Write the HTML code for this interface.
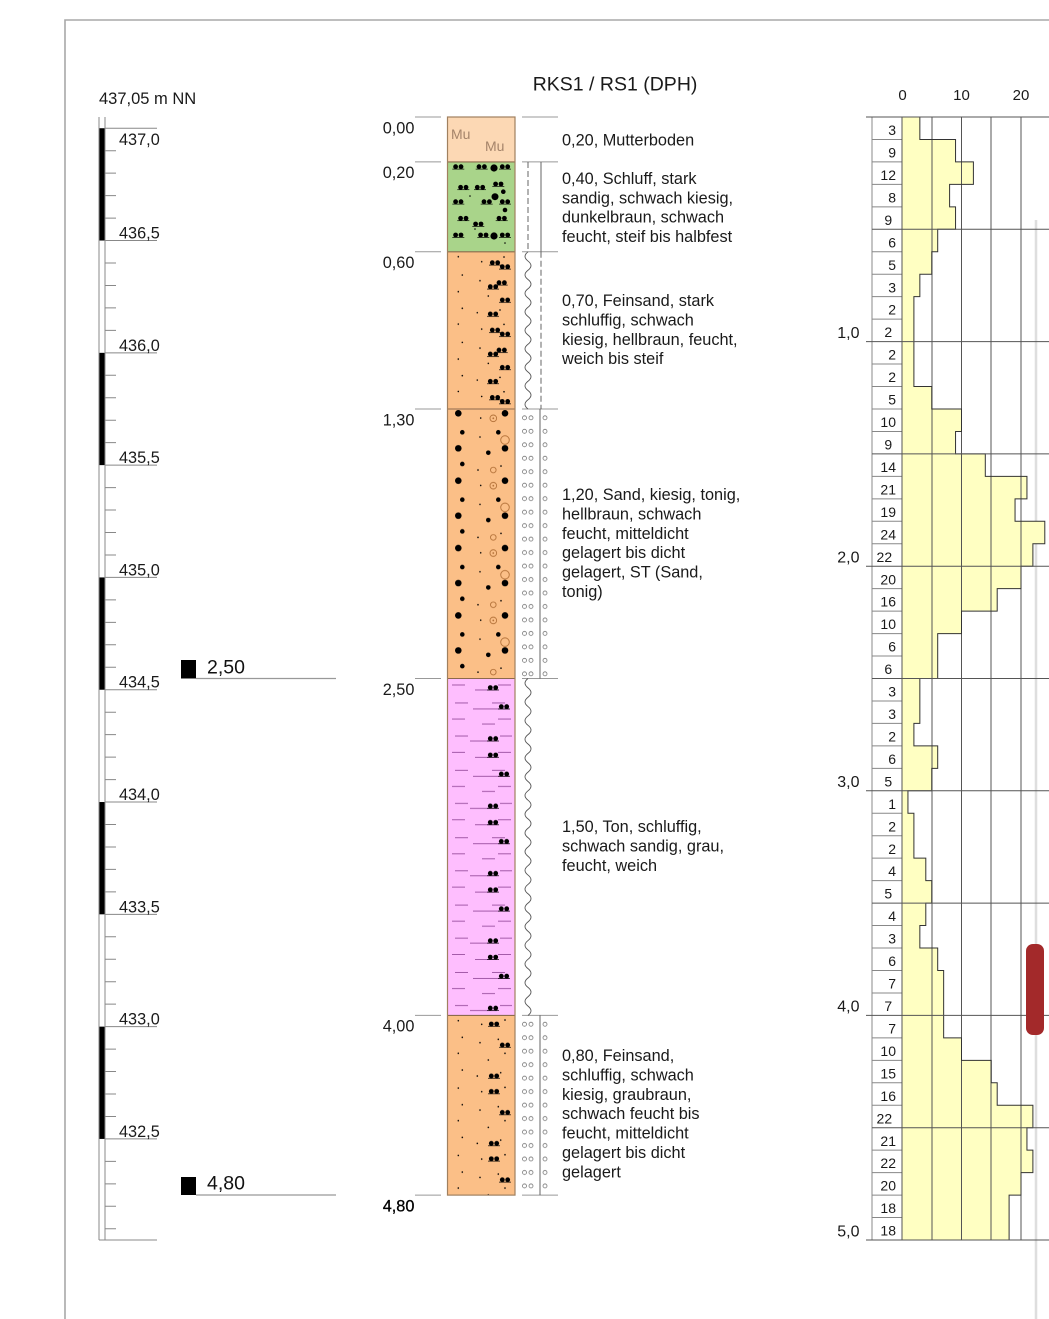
<!DOCTYPE html>
<html><head><meta charset="utf-8"><style>
html,body{margin:0;padding:0;background:#fff;}
svg{display:block;font-family:"Liberation Sans",Arial,sans-serif;}
.s path,.s line,.s rect{vector-effect:non-scaling-stroke;}
</style></head><body>
<svg width="1049" height="1319" viewBox="0 0 1049 1319" xmlns="http://www.w3.org/2000/svg">
<defs>
<g id="pr"><circle cx="-2.7" cy="0" r="2.4"/><circle cx="2.7" cy="0" r="2.4"/><path d="M-6 2.4h12" stroke="#000" stroke-width="0.7"/></g>
<pattern id="fs1" patternUnits="userSpaceOnUse" x="447" y="251.8" width="68" height="67.38">
<g fill="#000">
<circle cx="11.3" cy="4.9" r="0.8"/><circle cx="34.7" cy="9.9" r="0.8"/><circle cx="57" cy="5.2" r="0.8"/><circle cx="15.3" cy="23.2" r="0.8"/><circle cx="33" cy="28.9" r="0.8"/><circle cx="11.3" cy="39.9" r="0.8"/><circle cx="41.3" cy="44.2" r="0.8"/><circle cx="15.3" cy="56.5" r="0.8"/><circle cx="30.3" cy="60.9" r="0.8"/><circle cx="53" cy="58.2" r="0.8"/>
<use href="#pr" x="48" y="10.9"/><use href="#pr" x="58" y="14.9"/><use href="#pr" x="54.7" y="30.9"/><use href="#pr" x="46" y="34.9"/><use href="#pr" x="58" y="48.2"/><use href="#pr" x="46" y="62.2"/>
</g></pattern>
<pattern id="fs2" patternUnits="userSpaceOnUse" x="447" y="1015.4" width="68" height="67.38">
<g fill="#000">
<circle cx="11.3" cy="5.3" r="0.8"/><circle cx="34.7" cy="8.9" r="0.8"/><circle cx="58" cy="4.6" r="0.8"/><circle cx="15.3" cy="21.9" r="0.8"/><circle cx="33" cy="27.3" r="0.8"/><circle cx="51.3" cy="23.9" r="0.8"/><circle cx="11.3" cy="37.9" r="0.8"/><circle cx="41.3" cy="44.6" r="0.8"/><circle cx="58" cy="37.9" r="0.8"/><circle cx="15.3" cy="54.6" r="0.8"/><circle cx="30.3" cy="60.6" r="0.8"/><circle cx="53.7" cy="57.3" r="0.8"/>
<use href="#pr" x="47" y="8.6"/><use href="#pr" x="58" y="29.6"/><use href="#pr" x="47" y="60.6"/>
</g></pattern>
<pattern id="clay" patternUnits="userSpaceOnUse" x="447" y="678.5" width="68" height="67.38">
<path d="M5 6.5h13M51 6.5h13M28 11.5h22M8 24.5h13M45 24.5h13M26 30.5h36M5 40.5h13M51 40.5h13M35 45.5h13M8 57.5h13M53 57.5h12M23 62.5h27" stroke="#a35aa8" stroke-width="1" fill="none"/>
<g fill="#000"><use href="#pr" x="46" y="9.1"/><use href="#pr" x="57" y="28.1"/><use href="#pr" x="46" y="60.1"/></g>
</pattern>
<pattern id="gs" patternUnits="userSpaceOnUse" x="447" y="409" width="68" height="67.38">
<g fill="#000">
<circle cx="11.3" cy="4.3" r="3.3"/><circle cx="58" cy="4.3" r="3.3"/><circle cx="11.3" cy="39.3" r="3.3"/><circle cx="58" cy="39.3" r="3.3"/>
<circle cx="15.3" cy="23.3" r="2.3"/><circle cx="51.3" cy="23.3" r="2.3"/><circle cx="41.3" cy="43.7" r="2.3"/><circle cx="15.3" cy="55" r="2.3"/>
<circle cx="33.7" cy="9" r="0.8"/><circle cx="33" cy="28" r="0.8"/><circle cx="31" cy="61" r="0.8"/><circle cx="54" cy="57" r="0.8"/>
</g>
<g fill="none" stroke="#b5733a" stroke-width="0.9"><circle cx="46.3" cy="9.3" r="3.3"/><circle cx="58" cy="31" r="4.3"/><circle cx="46.3" cy="61" r="2.8"/></g>
<circle cx="46.3" cy="9.3" r="0.9" fill="#b5733a"/>
</pattern>
<pattern id="oo" patternUnits="userSpaceOnUse" x="520" y="409" width="30" height="13.476">
<g fill="none" stroke="#777" stroke-width="0.8"><circle cx="4.5" cy="8.8" r="2"/><circle cx="11" cy="8.8" r="2"/><circle cx="25" cy="8.8" r="2"/></g>
</pattern>
</defs>

<!-- frame -->
<path d="M65 1319V20H1049" fill="none" stroke="#a8a8a8" stroke-width="1.6"/>

<!-- title -->
<text x="532.7" y="90.5" font-size="19.5" fill="#1a1a1a">RKS1 / RS1 (DPH)</text>
<text x="99" y="104" font-size="16.5" fill="#1a1a1a">437,05 m NN</text>

<!-- elevation scale -->
<g class="s" transform="translate(0,117) scale(1,22.46)">
<rect x="99" y="0.5" width="6" height="5" fill="#000"/>
<rect x="99" y="10.5" width="6" height="5" fill="#000"/>
<rect x="99" y="20.5" width="6" height="5" fill="#000"/>
<rect x="99" y="30.5" width="6" height="5" fill="#000"/>
<rect x="99" y="40.5" width="6" height="5" fill="#000"/>
<path d="M99 0V50M105 0V50M99 50H157" stroke="#888" stroke-width="1" fill="none"/>
<path d="M105 .5h11M105 1.5h11M105 2.5h11M105 3.5h11M105 4.5h11M105 5.5h11M105 6.5h11M105 7.5h11M105 8.5h11M105 9.5h11M105 10.5h11M105 11.5h11M105 12.5h11M105 13.5h11M105 14.5h11M105 15.5h11M105 16.5h11M105 17.5h11M105 18.5h11M105 19.5h11M105 20.5h11M105 21.5h11M105 22.5h11M105 23.5h11M105 24.5h11M105 25.5h11M105 26.5h11M105 27.5h11M105 28.5h11M105 29.5h11M105 30.5h11M105 31.5h11M105 32.5h11M105 33.5h11M105 34.5h11M105 35.5h11M105 36.5h11M105 37.5h11M105 38.5h11M105 39.5h11M105 40.5h11M105 41.5h11M105 42.5h11M105 43.5h11M105 44.5h11M105 45.5h11M105 46.5h11M105 47.5h11M105 48.5h11M105 49.5h11M105 .5H157M105 5.5H157M105 10.5H157M105 15.5H157M105 20.5H157M105 25.5H157M105 30.5H157M105 35.5H157M105 40.5H157M105 45.5H157" stroke="#888" stroke-width="1" fill="none"/>
</g>
<g font-size="16.3" fill="#1a1a1a">
<text x="119" y="145">437,0</text>
<text x="119" y="238.5">436,5</text>
<text x="119" y="350.8">436,0</text>
<text x="119" y="463.1">435,5</text>
<text x="119" y="575.4">435,0</text>
<text x="119" y="687.7">434,5</text>
<text x="119" y="800">434,0</text>
<text x="119" y="912.3">433,5</text>
<text x="119" y="1024.6">433,0</text>
<text x="119" y="1136.9">432,5</text>
</g>

<!-- water levels -->
<rect x="181" y="660" width="15" height="18.5" fill="#000"/>
<path d="M196 678.5H336" stroke="#999" stroke-width="1.2"/>
<text x="207" y="673.5" font-size="19.5" fill="#111">2,50</text>
<rect x="181" y="1177" width="15" height="18" fill="#000"/>
<path d="M196 1195H336" stroke="#999" stroke-width="1.2"/>
<text x="207" y="1189.5" font-size="19.5" fill="#111">4,80</text>

<!-- depth labels & boundary lines -->
<path d="M415 117H441M415 161.9H441M415 251.8H441M415 409H441M415 678.5H441M415 1015.4H441M415 1195.1H441M522 117H558M522 161.9H558M522 251.8H558M522 409H558M522 678.5H558M522 1015.4H558M522 1195.1H558" stroke="#999" stroke-width="1"/>
<g font-size="16.3" fill="#1a1a1a">
<text x="382.7" y="133.3">0,00</text>
<text x="382.7" y="178.2">0,20</text>
<text x="382.7" y="268.1">0,60</text>
<text x="382.7" y="425.3">1,30</text>
<text x="382.7" y="694.8">2,50</text>
<text x="382.7" y="1031.7">4,00</text>
<text x="382.7" y="1211.4" fill="#000" stroke="#000" stroke-width="0.3">4,80</text>
</g>

<!-- soil column -->
<rect x="447.5" y="117" width="67.5" height="44.9" fill="#fcd8b4"/>
<text x="451" y="139" font-size="14" fill="#a5846a">Mu</text>
<text x="485" y="151" font-size="14" fill="#a5846a">Mu</text>
<rect x="447.5" y="161.9" width="67.5" height="89.9" fill="#a9d48a"/>
<g fill="#000">
<use href="#pr" x="458.3" y="166.7"/><use href="#pr" x="481.7" y="166.7"/><use href="#pr" x="505" y="166.7"/><circle cx="494" cy="168" r="3.6"/>
<use href="#pr" x="463.3" y="187.3"/><use href="#pr" x="480" y="187.3"/><use href="#pr" x="498.3" y="184"/><circle cx="503.3" cy="191.7" r="2.3"/>
<circle cx="495" cy="196.7" r="3.5"/>
<use href="#pr" x="458.3" y="201.7"/><use href="#pr" x="486.7" y="201.7"/><use href="#pr" x="505" y="201.7"/>
<circle cx="505" cy="210" r="2.3"/>
<use href="#pr" x="463.3" y="218.3"/><use href="#pr" x="501.7" y="218.3"/><use href="#pr" x="478.3" y="224"/>
<use href="#pr" x="458.3" y="235"/><use href="#pr" x="483.3" y="235"/><use href="#pr" x="505" y="235"/><circle cx="494" cy="236" r="3.6"/>
<circle cx="475" cy="229" r="0.8"/><circle cx="505" cy="243" r="0.8"/><circle cx="470" cy="196" r="0.8"/>
</g>
<rect x="447.5" y="251.8" width="67.5" height="157.2" fill="#fbbf87"/>
<rect x="447.5" y="251.8" width="67.5" height="157.2" fill="url(#fs1)"/>
<rect x="447.5" y="409" width="67.5" height="269.5" fill="#fbbf87"/>
<rect x="447.5" y="409" width="67.5" height="269.5" fill="url(#gs)"/>
<rect x="447.5" y="678.5" width="67.5" height="336.9" fill="#febefe"/>
<rect x="447.5" y="678.5" width="67.5" height="336.9" fill="url(#clay)"/>
<rect x="447.5" y="1015.4" width="67.5" height="179.7" fill="#fbbf87"/>
<rect x="447.5" y="1015.4" width="67.5" height="179.7" fill="url(#fs2)"/>
<path d="M447.5 161.9H515M447.5 251.8H515M447.5 409H515M447.5 678.5H515M447.5 1015.4H515" stroke="#8c6a4c" stroke-width="1.1"/>
<rect x="447.5" y="117" width="67.5" height="1078.1" fill="none" stroke="#a0805f" stroke-width="1.2"/>

<!-- consistency column -->
<path d="M528 162V251.8" stroke="#555" stroke-width="0.9" stroke-dasharray="6 3"/>
<path d="M541 162V251.8" stroke="#555" stroke-width="0.9"/>
<path d="M528 251.8q-6 4.62 0 9.247t0 9.247t0 9.247t0 9.247t0 9.247t0 9.247t0 9.247t0 9.247t0 9.247t0 9.247t0 9.247t0 9.247t0 9.247t0 9.247t0 9.247t0 9.247t0 9.247" fill="none" stroke="#555" stroke-width="0.9"/>
<path d="M541 251.8V409" stroke="#555" stroke-width="0.9" stroke-dasharray="6 3"/>
<rect x="520" y="409" width="30" height="269.5" fill="url(#oo)"/>
<path d="M540 409V678.5" stroke="#555" stroke-width="0.9"/>
<path d="M528 678.5q-6 4.68 0 9.36t0 9.36t0 9.36t0 9.36t0 9.36t0 9.36t0 9.36t0 9.36t0 9.36t0 9.36t0 9.36t0 9.36t0 9.36t0 9.36t0 9.36t0 9.36t0 9.36t0 9.36t0 9.36t0 9.36t0 9.36t0 9.36t0 9.36t0 9.36t0 9.36t0 9.36t0 9.36t0 9.36t0 9.36t0 9.36t0 9.36t0 9.36t0 9.36t0 9.36t0 9.36t0 9.36" fill="none" stroke="#555" stroke-width="0.9"/>
<rect x="520" y="1015.4" width="30" height="179.7" fill="url(#oo)"/>
<path d="M540 1015.4V1195.1" stroke="#555" stroke-width="0.9"/>

<!-- descriptions -->
<g font-size="16.3" fill="#1a1a1a">
<text x="562" y="145.5">0,20, Mutterboden</text>
<text x="562" y="184">0,40, Schluff, stark</text>
<text x="562" y="203.3">sandig, schwach kiesig,</text>
<text x="562" y="222.6">dunkelbraun, schwach</text>
<text x="562" y="241.9">feucht, steif bis halbfest</text>
<text x="562" y="306">0,70, Feinsand, stark</text>
<text x="562" y="325.4">schluffig, schwach</text>
<text x="562" y="344.8">kiesig, hellbraun, feucht,</text>
<text x="562" y="364.2">weich bis steif</text>
<text x="562" y="500">1,20, Sand, kiesig, tonig,</text>
<text x="562" y="519.4">hellbraun, schwach</text>
<text x="562" y="538.8">feucht, mitteldicht</text>
<text x="562" y="558.2">gelagert bis dicht</text>
<text x="562" y="577.6">gelagert, ST (Sand,</text>
<text x="562" y="597">tonig)</text>
<text x="562" y="832">1,50, Ton, schluffig,</text>
<text x="562" y="851.4">schwach sandig, grau,</text>
<text x="562" y="870.8">feucht, weich</text>
<text x="562" y="1061">0,80, Feinsand,</text>
<text x="562" y="1080.4">schluffig, schwach</text>
<text x="562" y="1099.8">kiesig, graubraun,</text>
<text x="562" y="1119.2">schwach feucht bis</text>
<text x="562" y="1138.6">feucht, mitteldicht</text>
<text x="562" y="1158">gelagert bis dicht</text>
<text x="562" y="1177.4">gelagert</text>
</g>

<!-- DPH chart -->
<path d="M1036 220V1319" stroke="#dedede" stroke-width="2.5"/>
<g class="s" transform="translate(0,117) scale(1,22.46)">
<path d="M902 0H919.85V1H955.55V2H973.4V3H949.6V4H955.55V5H937.7V6H931.75V7H919.85V8H913.9V12H931.75V13H961.5V14H955.55V15H985.3V16H1026.95V17H1015.05V18H1044.8V19H1032.9V20H1021V21H997.2V22H961.5V23H937.7V25H919.85V27H913.9V28H937.7V29H931.75V30H907.95V31H913.9V33H925.8V34H931.75V35H925.8V36H919.85V37H937.7V38H943.65V41H961.5V42H991.25V43H997.2V44H1032.9V45H1026.95V46H1032.9V47H1021V48H1009.1V50H902Z" fill="#ffffc2" stroke="none"/>
<path d="M932 0V50M961.5 0V50M991 0V50M1021 0V50" stroke="#555" stroke-width="1" fill="none"/>
<path d="M902 0H919.85V1H955.55V2H973.4V3H949.6V4H955.55V5H937.7V6H931.75V7H919.85V8H913.9V12H931.75V13H961.5V14H955.55V15H985.3V16H1026.95V17H1015.05V18H1044.8V19H1032.9V20H1021V21H997.2V22H961.5V23H937.7V25H919.85V27H913.9V28H937.7V29H931.75V30H907.95V31H913.9V33H925.8V34H931.75V35H925.8V36H919.85V37H937.7V38H943.65V41H961.5V42H991.25V43H997.2V44H1032.9V45H1026.95V46H1032.9V47H1021V48H1009.1V50" fill="none" stroke="#333" stroke-width="1"/>
<path d="M872 1H902M872 2H902M872 3H902M872 4H902M872 6H902M872 7H902M872 8H902M872 9H902M872 11H902M872 12H902M872 13H902M872 14H902M872 16H902M872 17H902M872 18H902M872 19H902M872 21H902M872 22H902M872 23H902M872 24H902M872 26H902M872 27H902M872 28H902M872 29H902M872 31H902M872 32H902M872 33H902M872 34H902M872 36H902M872 37H902M872 38H902M872 39H902M872 41H902M872 42H902M872 43H902M872 44H902M872 46H902M872 47H902M872 48H902M872 49H902M872 0V50" stroke="#888" stroke-width="1" fill="none"/>
<path d="M866 0H1049M872 5H1049M866 10H1049M872 15H1049M866 20H1049M872 25H1049M866 30H1049M872 35H1049M866 40H1049M872 45H1049M866 50H1049M902 0V50" stroke="#555" stroke-width="1" fill="none"/>
</g>
<rect x="1026" y="944" width="18" height="91" rx="7" fill="#a3292a"/>

<g font-size="15" fill="#1a1a1a" text-anchor="middle">
<text x="902.5" y="100">0</text>
<text x="961.5" y="100">10</text>
<text x="1021" y="100">20</text>
</g>
<g font-size="16" fill="#1a1a1a" text-anchor="end">
<text x="859.5" y="337.9">1,0</text>
<text x="859.5" y="562.5">2,0</text>
<text x="859.5" y="787.1">3,0</text>
<text x="859.5" y="1011.7">4,0</text>
<text x="859.5" y="1236.3">5,0</text>
</g>
<text font-size="14" fill="#1a1a1a" text-anchor="end">
<tspan x="896" y="135.1">3</tspan><tspan x="896" y="157.5">9</tspan><tspan x="896" y="180">12</tspan><tspan x="896" y="202.4">8</tspan><tspan x="896" y="224.9">9</tspan>
<tspan x="896" y="247.4">6</tspan><tspan x="896" y="269.8">5</tspan><tspan x="896" y="292.3">3</tspan><tspan x="896" y="314.7">2</tspan><tspan x="896" y="337.2">2</tspan>
<tspan x="896" y="359.7">2</tspan><tspan x="896" y="382.1">2</tspan><tspan x="896" y="404.6">5</tspan><tspan x="896" y="427">10</tspan><tspan x="896" y="449.5">9</tspan>
<tspan x="896" y="472">14</tspan><tspan x="896" y="494.4">21</tspan><tspan x="896" y="516.9">19</tspan><tspan x="896" y="539.3">24</tspan><tspan x="896" y="561.8">22</tspan>
<tspan x="896" y="584.3">20</tspan><tspan x="896" y="606.7">16</tspan><tspan x="896" y="629.2">10</tspan><tspan x="896" y="651.6">6</tspan><tspan x="896" y="674.1">6</tspan>
<tspan x="896" y="696.6">3</tspan><tspan x="896" y="719">3</tspan><tspan x="896" y="741.5">2</tspan><tspan x="896" y="763.9">6</tspan><tspan x="896" y="786.4">5</tspan>
<tspan x="896" y="808.9">1</tspan><tspan x="896" y="831.3">2</tspan><tspan x="896" y="853.8">2</tspan><tspan x="896" y="876.2">4</tspan><tspan x="896" y="898.7">5</tspan>
<tspan x="896" y="921.2">4</tspan><tspan x="896" y="943.6">3</tspan><tspan x="896" y="966.1">6</tspan><tspan x="896" y="988.5">7</tspan><tspan x="896" y="1011">7</tspan>
<tspan x="896" y="1033.5">7</tspan><tspan x="896" y="1055.9">10</tspan><tspan x="896" y="1078.4">15</tspan><tspan x="896" y="1100.8">16</tspan><tspan x="896" y="1123.3">22</tspan>
<tspan x="896" y="1145.8">21</tspan><tspan x="896" y="1168.2">22</tspan><tspan x="896" y="1190.7">20</tspan><tspan x="896" y="1213.1">18</tspan><tspan x="896" y="1235.6">18</tspan>
</text>
</svg>
</body></html>
